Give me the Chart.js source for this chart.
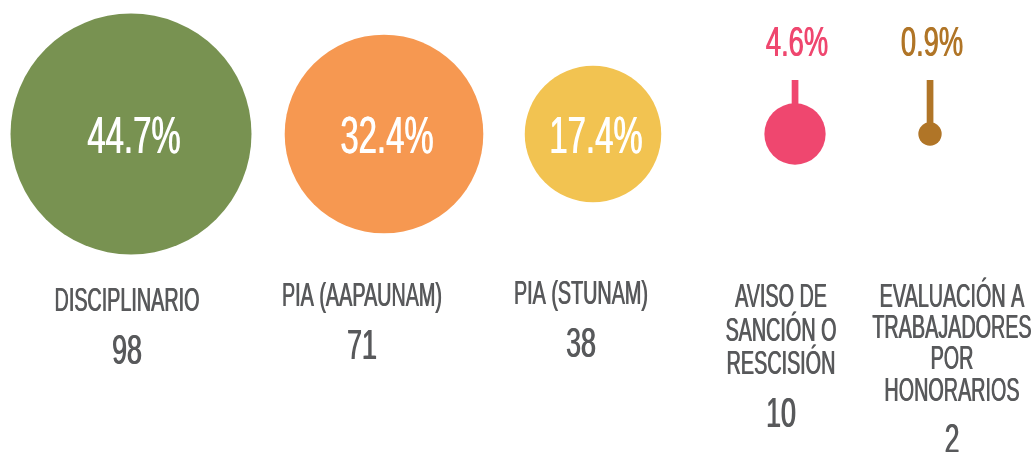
<!DOCTYPE html>
<html>
<head>
<meta charset="utf-8">
<script src="https://cdn.jsdelivr.net/npm/chart.js@4"></script>
<style>
  html, body { margin: 0; padding: 0; background: #fff; }
  #wrap { width: 1033px; height: 452px; position: relative; }
</style>
</head>
<body>
<div id="wrap"><canvas id="chart"></canvas></div>
<script>
// data
const categories = [
  ['DISCIPLINARIO'],
  ['PIA (AAPAUNAM)'],
  ['PIA (STUNAM)'],
  ['AVISO DE', 'SANCIÓN O', 'RESCISIÓN'],
  ['EVALUACIÓN A', 'TRABAJADORES', 'POR', 'HONORARIOS']
];
const counts = [98, 71, 38, 10, 2];
const percents = [44.7, 32.4, 17.4, 4.6, 0.9];

// look & layout
const colors = ['#789251', '#F69851', '#F2C351', '#EF476F', '#B07527'];
const TEXT = '#58595B';
const FONT = '"Liberation Sans", Arial, sans-serif';
const bubbleX = [131, 384, 593, 795, 930];
const labelX = [127, 362, 581, 781, 952];
const labelTop = [287, 282, 280, 283, 283];
const lineGap = [33, 33, 33, 33.7, 31.2];
const MAX_R = 120.5;

// area-ish size scale for the circles
const sizeOf = v => MAX_R * Math.pow(v / Math.max(...counts), 0.6);

// condensed text: squeeze a normal face horizontally
function condText(ctx, txt, x, y, size, color, sx) {
  ctx.save();
  ctx.translate(x, y);
  ctx.scale(sx, 1);
  ctx.font = size + 'px ' + FONT;
  ctx.fillStyle = color;
  ctx.textAlign = 'center';
  ctx.textBaseline = 'alphabetic';
  ctx.fillText(txt, -0.6, 0);
  ctx.fillText(txt, 0.6, 0);
  ctx.restore();
}

const labelsPlugin = {
  id: 'bubbleLabels',
  afterDatasetsDraw(chart) {
    const ctx = chart.ctx;
    const meta = chart.getDatasetMeta(0);
    meta.data.forEach((el, i) => {
      const r = el.options.radius;
      const pct = percents[i].toFixed(1) + '%';
      if (r > 50) {
        condText(ctx, pct, el.x + 3, el.y + 18.5, 51.5, '#fff', 0.64);
      } else {
        // stem + label above
        ctx.save();
        ctx.fillStyle = colors[i];
        ctx.fillRect(el.x - 3.3, 80, 6.7, el.y - r - 80 + 3);
        ctx.restore();
        condText(ctx, pct, el.x + 2, 56, 42, colors[i], 0.65);
      }
      // category + count below
      const lines = categories[i];
      lines.forEach((t, j) => {
        condText(ctx, t, labelX[i], labelTop[i] + j * lineGap[i] + 24, 33.5, TEXT, 0.59);
      });
      const numTop = labelTop[i] + (lines.length - 1) * lineGap[i] + 46;
      condText(ctx, String(counts[i]), labelX[i], numTop + 30.5, 42.5, TEXT, 0.63);
    });
  }
};

new Chart(document.getElementById('chart'), {
  type: 'bubble',
  data: {
    datasets: [{
      data: counts.map((v, i) => ({ x: bubbleX[i], y: 0, r: sizeOf(v) })),
      backgroundColor: colors,
      borderWidth: 0,
      hoverRadius: 0,
      clip: false
    }]
  },
  options: {
    responsive: true,
    maintainAspectRatio: false,
    animation: false,
    events: [],
    layout: { padding: 0, autoPadding: false },
    plugins: { legend: { display: false }, tooltip: { enabled: false } },
    scales: {
      x: { type: 'linear', min: 0, max: 1033, display: false },
      y: { type: 'linear', min: -318, max: 134, display: false }
    }
  },
  plugins: [labelsPlugin]
});
</script>
</body>
</html>
